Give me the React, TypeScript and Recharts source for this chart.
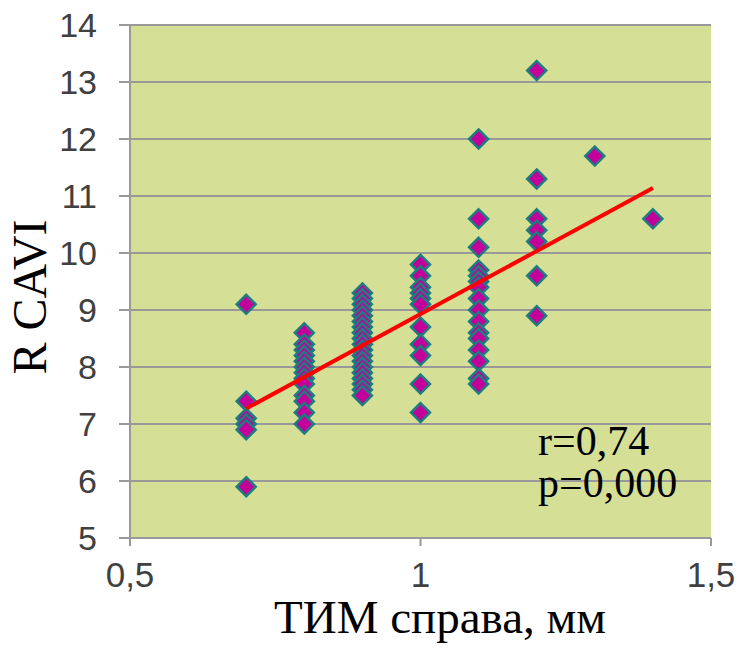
import { ScatterChart, Scatter, XAxis, YAxis, CartesianGrid } from "recharts";

// RCAVI values read per ТИМ column
const col07 = [9.1, 7.4, 7.1, 7.0, 6.9, 5.9];
const col08 = [8.6, 8.4, 8.3, 8.2, 8.1, 8.0, 7.9, 7.8, 7.7, 7.5, 7.4, 7.2, 7.0];
const col09 = [9.3, 9.2, 9.1, 9.0, 8.9, 8.8, 8.7, 8.6, 8.5, 8.4, 8.3, 8.2, 8.1, 8.0, 7.9, 7.8, 7.7, 7.6, 7.5];
const col10 = [9.8, 9.6, 9.4, 9.3, 9.2, 9.1, 8.7, 8.4, 8.2, 7.7, 7.2];
const col11 = [12.0, 10.6, 10.1, 9.7, 9.6, 9.5, 9.4, 9.2, 9.0, 8.8, 8.6, 8.5, 8.3, 8.1, 7.8, 7.7];
const col12 = [13.2, 11.3, 10.6, 10.4, 10.2, 9.6, 8.9];
const col13 = [11.7];
const col14 = [10.6];

const trendX = [0.7, 1.4];
const trendY = [7.27, 11.14];

const xTicks = [0.5, 1, 1.5];
const yTicks = [5, 6, 7, 8, 9, 10, 11, 12, 13, 14];

const columns: [number, number[]][] = [
  [0.7, col07], [0.8, col08], [0.9, col09], [1.0, col10],
  [1.1, col11], [1.2, col12], [1.3, col13], [1.4, col14],
];

const points = columns.flatMap(([x, ys]) => ys.map((y) => ({ x, y })));
const trend = trendX.map((x, i) => ({ x, y: trendY[i] }));

const serif = "Liberation Serif, Times New Roman, serif";
const sans = "Liberation Sans, Arial, sans-serif";

const Diamond = (props: any) => {
  const { cx, cy } = props;
  const r = 9.5;
  return (
    <path
      d={`M${cx},${cy - r} L${cx + r},${cy} L${cx},${cy + r} L${cx - r},${cy} Z`}
      fill="#c4009a"
      stroke="#1b7d80"
      strokeWidth={2.5}
    />
  );
};

const fmt = (v: number) => String(v).replace(".", ",");

export default function App() {
  return (
    <div style={{ position: "absolute", left: 0, top: 0, width: 741, height: 648, overflow: "hidden", background: "#fff" }}>
      <ScatterChart width={741} height={648} margin={{ top: 25, right: 30, left: 69, bottom: 50 }}>
        <CartesianGrid fill="#d5e096" stroke="#999999" strokeWidth={2} vertical={false} />
        <XAxis
          type="number"
          dataKey="x"
          domain={[0.5, 1.5]}
          ticks={xTicks}
          tickFormatter={fmt}
          height={60}
          axisLine={{ stroke: "#999999", strokeWidth: 2 }}
          tickLine={{ stroke: "#999999", strokeWidth: 2 }}
          tickSize={8}
          tickMargin={16}
          tick={{ fill: "#404040", fontSize: 35, fontFamily: sans }}
          allowDataOverflow
        />
        <YAxis
          type="number"
          dataKey="y"
          domain={[5, 14]}
          ticks={yTicks}
          interval={0}
          width={61}
          axisLine={{ stroke: "#999999", strokeWidth: 2 }}
          tickLine={{ stroke: "#999999", strokeWidth: 2 }}
          tickSize={11}
          tickMargin={22}
          tick={{ fill: "#404040", fontSize: 34, fontFamily: sans }}
        />
        <Scatter data={points} shape={<Diamond />} isAnimationActive={false} />
        <Scatter
          data={trend}
          line={{ stroke: "#ff0000", strokeWidth: 4 }}
          shape={() => <g />}
          isAnimationActive={false}
        />
      </ScatterChart>
      <svg width={741} height={648} style={{ position: "absolute", left: 0, top: 0, pointerEvents: "none" }}>
        <text
          x={0}
          y={0}
          transform="translate(46, 297) rotate(-90)"
          textAnchor="middle"
          fontFamily={serif}
          fontSize={48}
          fill="#000"
        >
          R CAVI
        </text>
        <text x={440} y={633} textAnchor="middle" fontFamily={serif} fontSize={47} fill="#000">
          ТИМ справа, мм
        </text>
        <text x={538} y={455} fontFamily={serif} fontSize={42} fill="#000">
          r=0,74
        </text>
        <text x={538} y={497} fontFamily={serif} fontSize={42} fill="#000">
          p=0,000
        </text>
      </svg>
    </div>
  );
}
